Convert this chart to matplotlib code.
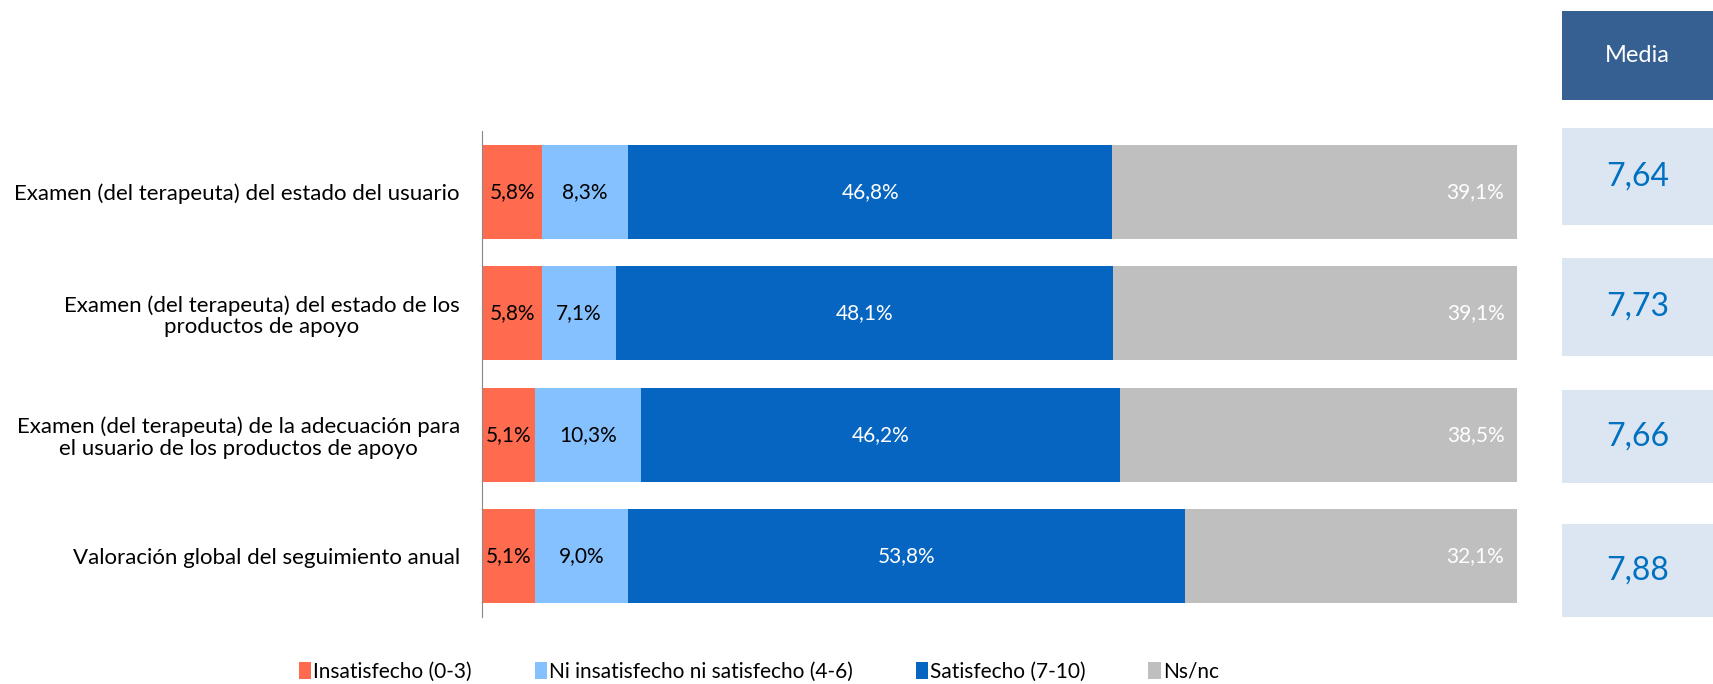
import numpy as np
import matplotlib
matplotlib.use('Agg')
import matplotlib.pyplot as plt
from matplotlib.patches import Rectangle

plt.rcParams['font.family'] = ['Lato', 'DejaVu Sans']

categories = ['Examen (del terapeuta) del estado del usuario',
              'Examen (del terapeuta) del estado de los\nproductos de apoyo',
              'Examen (del terapeuta) de la adecuación para\nel usuario de los productos de apoyo',
              'Valoración global del seguimiento anual']
insatisfecho = [5.8, 5.8, 5.1, 5.1]
ni_ni = [8.3, 7.1, 10.3, 9.0]
satisfecho = [46.8, 48.1, 46.2, 53.8]
nsnc = [39.1, 39.1, 38.5, 32.1]
media = ['7,64', '7,73', '7,66', '7,88']

series = [('Insatisfecho (0-3)', insatisfecho, '#FF6B4F', 'black'),
          ('Ni insatisfecho ni satisfecho (4-6)', ni_ni, '#85C1FF', 'black'),
          ('Satisfecho (7-10)', satisfecho, '#0565C0', 'white'),
          ('Ns/nc', nsnc, '#BFBFBF', 'white')]

fig = plt.figure(figsize=(17.13, 6.84), dpi=100)
ax = fig.add_axes([0.2814, 0.098, 0.6042, 0.7105])

y = np.arange(len(categories))
left = np.zeros(len(categories))
for name, vals, col, tcol in series:
    vals = np.array(vals)
    bars = ax.barh(y, vals, left=left, height=0.77, color=col, label=name)
    for i, v in enumerate(vals):
        txt = ('%.1f%%' % v).replace('.', ',')
        if name == 'Ns/nc':
            ax.text(left[i] + v - 1.3, y[i], txt, ha='right', va='center',
                    color=tcol, fontsize=15)
        else:
            ax.text(left[i] + v / 2, y[i], txt, ha='center', va='center',
                    color=tcol, fontsize=15)
    left += vals

ax.set_xlim(0, 100)
ax.set_ylim(3.5, -0.5)
ax.set_yticks(y)
ax.set_yticklabels(categories, fontsize=16, ha='right', multialignment='center',
                   linespacing=1.1)
ax.tick_params(axis='y', length=0, pad=16)
ax.set_xticks([])
for s in ['top', 'right', 'bottom']:
    ax.spines[s].set_visible(False)
ax.spines['left'].set_color('#888888')

# media column
W, H = 1713.0, 684.0
def box(x0, y0, x1, y1, col):
    fig.add_artist(Rectangle((x0 / W, 1 - y1 / H), (x1 - x0) / W, (y1 - y0) / H,
                             transform=fig.transFigure, color=col, lw=0))

box(1562, 11, 1713, 100, '#376092')
fig.text((1562 + 1713) / 2 / W, 1 - 55 / H, 'Media', ha='center', va='center',
         color='white', fontsize=17)
box_y = [(128, 225), (258, 356), (390, 483), (524, 617)]
for (y0, y1), m in zip(box_y, media):
    box(1562, y0, 1713, y1, '#DCE6F2')
    fig.text((1562 + 1713) / 2 / W, 1 - (y0 + y1) / 2 / H, m, ha='center',
             va='center', color='#0070C0', fontsize=23)

fig.legend(loc='center', bbox_to_anchor=(0.443, 0.018), ncol=4, frameon=False,
           fontsize=15, handlelength=0.6, handleheight=0.9, handletextpad=0.1,
           columnspacing=3.0)

fig.savefig('out.png', dpi=100)
